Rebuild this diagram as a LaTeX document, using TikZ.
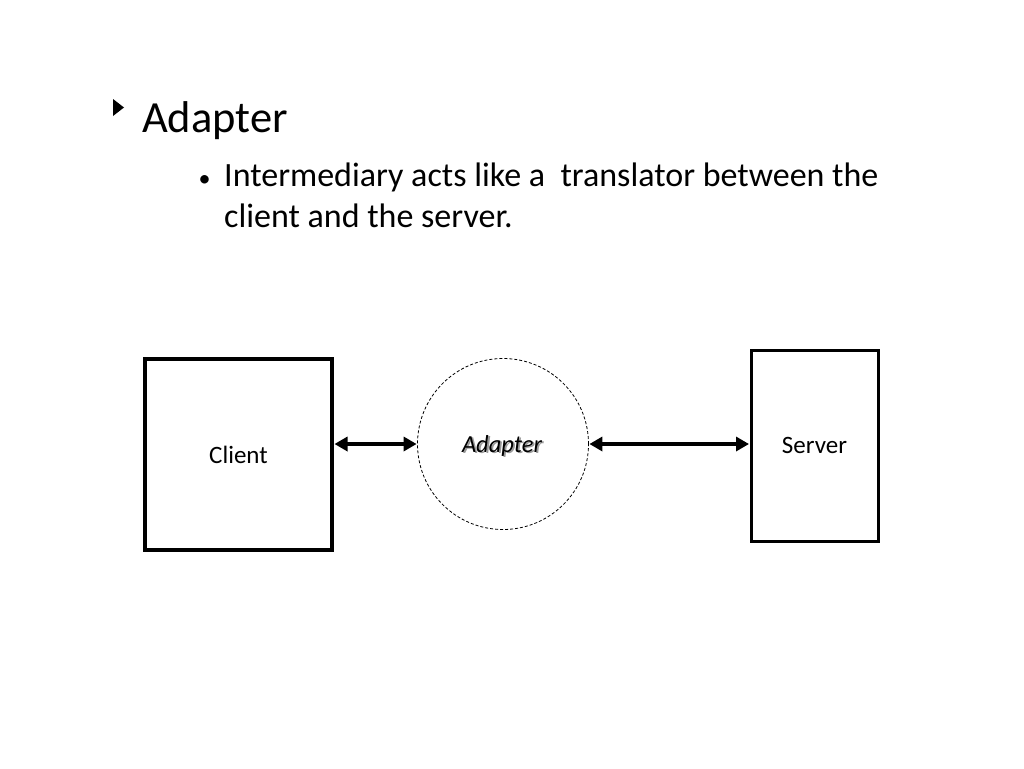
\documentclass[tikz,border=0pt]{standalone}
\usepackage{fontspec}
\setmainfont{Carlito}
\usetikzlibrary{arrows.meta}
\begin{document}
\begin{tikzpicture}[x=1pt,y=-1pt,
  boxnode/.style={draw=black,fill=white,inner sep=0pt,font=\fontsize{25}{29}\selectfont},
  dbl/.style={line width=3.8pt,{Triangle[length=13pt,width=14pt]}-{Triangle[length=13pt,width=14pt]},shorten <=0.5pt,shorten >=0.5pt},
  txt/.style={inner sep=0pt,anchor=base west},
  bodyfont/.style={font=\fontsize{34}{40}\selectfont}]
\useasboundingbox (0,0) rectangle (1024,768);
\fill[white] (0,0) rectangle (1024,768);
% title
\fill[black] (113,99) -- (113,116) -- (124,107.5) -- cycle;
\node[txt,font=\fontsize{44.5}{50}\selectfont] (title) at (142,132) {Adapter};
\node[txt,font=\fontsize{24}{28}\selectfont] (bul) at (198.5,186) {•};
\node[txt,bodyfont] (l1) at (224,186) {Intermediary acts like a\ \ translator between the};
\node[txt,bodyfont] (l2) at (224,227) {client and the server.};
% diagram
\node[boxnode,line width=4pt,minimum width=187pt,minimum height=191pt] (client) at (238.5,454.5) {Client};
\node[boxnode,line width=3pt,minimum width=127pt,minimum height=191pt] (server) at (814.5,445.5) {Server};
\node[circle,draw=black,dash pattern=on 3pt off 2pt,line width=0.8pt,minimum size=171pt,inner sep=0pt] (adapter) at (503,444) {};
\node[inner sep=0pt,anchor=base,text=black!40,font=\fontsize{24.5}{28}\selectfont\itshape] (adshadow) at (503.8,453.8) {Adapter};
\node[inner sep=0pt,anchor=base,font=\fontsize{24.5}{28}\selectfont\itshape] (adlabel) at (502,452) {Adapter};
\draw[dbl] (client.east |- adapter.west) -- (adapter.west);
\draw[dbl] (adapter.east) -- (server.west |- adapter.east);
\end{tikzpicture}
\end{document}
